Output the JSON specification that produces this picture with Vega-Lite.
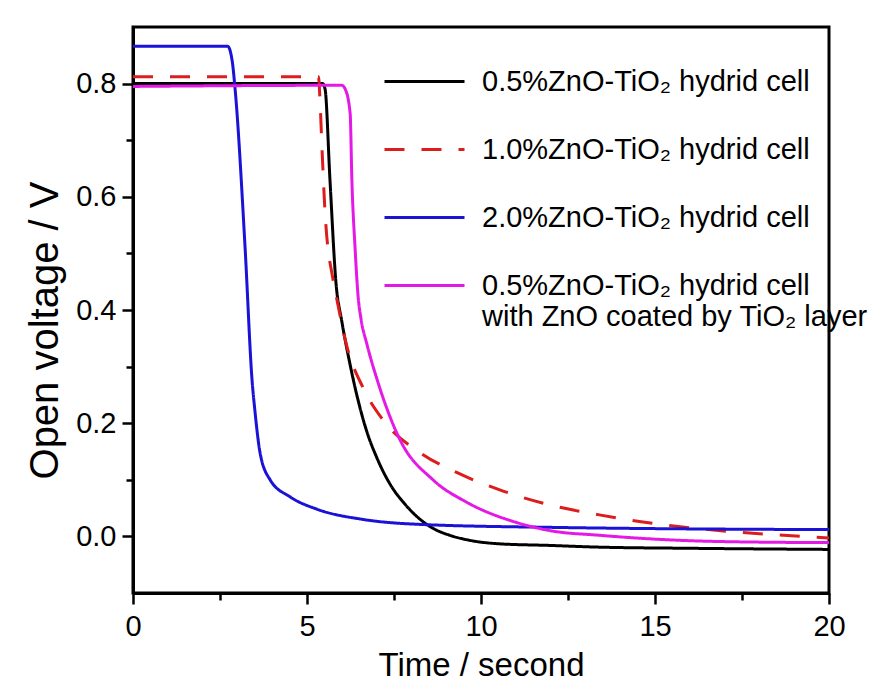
{
  "$schema": "https://vega.github.io/schema/vega-lite/v6.json",
  "width": 696,
  "height": 566,
  "autosize": "none",
  "padding": {"left": 133, "top": 27, "right": 43, "bottom": 100},
  "background": "white",
  "config": {
    "font": "Liberation Sans",
    "view": {"stroke": "black", "strokeWidth": 3},
    "axis": {"grid": false, "domainColor": "black", "domainWidth": 3, "tickColor": "black", "tickWidth": 2.5, "labelColor": "black", "titleColor": "black", "labelFont": "Liberation Sans", "titleFont": "Liberation Sans", "titleFontWeight": "normal", "labelFontSize": 29}
  },
  "data": {"values": [
    {"cell": "0.5%ZnO-TiO₂ hydrid cell", "t": 0, "v": 0.800},
    {"cell": "0.5%ZnO-TiO₂ hydrid cell", "t": 5.45, "v": 0.800},
    {"cell": "0.5%ZnO-TiO₂ hydrid cell", "t": 5.52, "v": 0.790},
    {"cell": "0.5%ZnO-TiO₂ hydrid cell", "t": 5.66, "v": 0.630},
    {"cell": "0.5%ZnO-TiO₂ hydrid cell", "t": 5.83, "v": 0.450},
    {"cell": "0.5%ZnO-TiO₂ hydrid cell", "t": 6.0, "v": 0.380},
    {"cell": "0.5%ZnO-TiO₂ hydrid cell", "t": 6.2, "v": 0.315},
    {"cell": "0.5%ZnO-TiO₂ hydrid cell", "t": 6.45, "v": 0.245},
    {"cell": "0.5%ZnO-TiO₂ hydrid cell", "t": 6.72, "v": 0.185},
    {"cell": "0.5%ZnO-TiO₂ hydrid cell", "t": 7.0, "v": 0.140},
    {"cell": "0.5%ZnO-TiO₂ hydrid cell", "t": 7.39, "v": 0.092},
    {"cell": "0.5%ZnO-TiO₂ hydrid cell", "t": 7.8, "v": 0.058},
    {"cell": "0.5%ZnO-TiO₂ hydrid cell", "t": 8.16, "v": 0.035},
    {"cell": "0.5%ZnO-TiO₂ hydrid cell", "t": 8.6, "v": 0.015},
    {"cell": "0.5%ZnO-TiO₂ hydrid cell", "t": 9.1, "v": 0.002},
    {"cell": "0.5%ZnO-TiO₂ hydrid cell", "t": 9.6, "v": -0.006},
    {"cell": "0.5%ZnO-TiO₂ hydrid cell", "t": 10.5, "v": -0.013},
    {"cell": "0.5%ZnO-TiO₂ hydrid cell", "t": 12, "v": -0.016},
    {"cell": "0.5%ZnO-TiO₂ hydrid cell", "t": 13.4, "v": -0.019},
    {"cell": "0.5%ZnO-TiO₂ hydrid cell", "t": 16, "v": -0.021},
    {"cell": "0.5%ZnO-TiO₂ hydrid cell", "t": 20, "v": -0.023},
    {"cell": "1.0%ZnO-TiO₂ hydrid cell", "t": 0, "v": 0.812},
    {"cell": "1.0%ZnO-TiO₂ hydrid cell", "t": 5.33, "v": 0.812},
    {"cell": "1.0%ZnO-TiO₂ hydrid cell", "t": 5.37, "v": 0.775},
    {"cell": "1.0%ZnO-TiO₂ hydrid cell", "t": 5.43, "v": 0.687},
    {"cell": "1.0%ZnO-TiO₂ hydrid cell", "t": 5.52, "v": 0.571},
    {"cell": "1.0%ZnO-TiO₂ hydrid cell", "t": 5.75, "v": 0.453},
    {"cell": "1.0%ZnO-TiO₂ hydrid cell", "t": 5.86, "v": 0.418},
    {"cell": "1.0%ZnO-TiO₂ hydrid cell", "t": 6.15, "v": 0.335},
    {"cell": "1.0%ZnO-TiO₂ hydrid cell", "t": 6.6, "v": 0.264},
    {"cell": "1.0%ZnO-TiO₂ hydrid cell", "t": 7.18, "v": 0.206},
    {"cell": "1.0%ZnO-TiO₂ hydrid cell", "t": 8.25, "v": 0.148},
    {"cell": "1.0%ZnO-TiO₂ hydrid cell", "t": 9.3, "v": 0.113},
    {"cell": "1.0%ZnO-TiO₂ hydrid cell", "t": 10.5, "v": 0.083},
    {"cell": "1.0%ZnO-TiO₂ hydrid cell", "t": 12.3, "v": 0.051},
    {"cell": "1.0%ZnO-TiO₂ hydrid cell", "t": 13.4, "v": 0.038},
    {"cell": "1.0%ZnO-TiO₂ hydrid cell", "t": 14.6, "v": 0.026},
    {"cell": "1.0%ZnO-TiO₂ hydrid cell", "t": 15.6, "v": 0.018},
    {"cell": "1.0%ZnO-TiO₂ hydrid cell", "t": 17.5, "v": 0.007},
    {"cell": "1.0%ZnO-TiO₂ hydrid cell", "t": 18.7, "v": 0.002},
    {"cell": "1.0%ZnO-TiO₂ hydrid cell", "t": 20, "v": -0.003},
    {"cell": "2.0%ZnO-TiO₂ hydrid cell", "t": 0, "v": 0.866},
    {"cell": "2.0%ZnO-TiO₂ hydrid cell", "t": 2.72, "v": 0.866},
    {"cell": "2.0%ZnO-TiO₂ hydrid cell", "t": 2.85, "v": 0.840},
    {"cell": "2.0%ZnO-TiO₂ hydrid cell", "t": 2.93, "v": 0.793},
    {"cell": "2.0%ZnO-TiO₂ hydrid cell", "t": 3.22, "v": 0.511},
    {"cell": "2.0%ZnO-TiO₂ hydrid cell", "t": 3.42, "v": 0.277},
    {"cell": "2.0%ZnO-TiO₂ hydrid cell", "t": 3.51, "v": 0.218},
    {"cell": "2.0%ZnO-TiO₂ hydrid cell", "t": 3.65, "v": 0.148},
    {"cell": "2.0%ZnO-TiO₂ hydrid cell", "t": 3.94, "v": 0.100},
    {"cell": "2.0%ZnO-TiO₂ hydrid cell", "t": 4.51, "v": 0.070},
    {"cell": "2.0%ZnO-TiO₂ hydrid cell", "t": 5.29, "v": 0.048},
    {"cell": "2.0%ZnO-TiO₂ hydrid cell", "t": 6.61, "v": 0.030},
    {"cell": "2.0%ZnO-TiO₂ hydrid cell", "t": 8.33, "v": 0.021},
    {"cell": "2.0%ZnO-TiO₂ hydrid cell", "t": 12, "v": 0.016},
    {"cell": "2.0%ZnO-TiO₂ hydrid cell", "t": 20, "v": 0.012},
    {"cell": "0.5%ZnO-TiO₂ hydrid cell with ZnO coated by TiO₂ layer", "t": 0, "v": 0.795},
    {"cell": "0.5%ZnO-TiO₂ hydrid cell with ZnO coated by TiO₂ layer", "t": 6.0, "v": 0.797},
    {"cell": "0.5%ZnO-TiO₂ hydrid cell with ZnO coated by TiO₂ layer", "t": 6.1, "v": 0.790},
    {"cell": "0.5%ZnO-TiO₂ hydrid cell with ZnO coated by TiO₂ layer", "t": 6.24, "v": 0.747},
    {"cell": "0.5%ZnO-TiO₂ hydrid cell with ZnO coated by TiO₂ layer", "t": 6.29, "v": 0.629},
    {"cell": "0.5%ZnO-TiO₂ hydrid cell with ZnO coated by TiO₂ layer", "t": 6.38, "v": 0.511},
    {"cell": "0.5%ZnO-TiO₂ hydrid cell with ZnO coated by TiO₂ layer", "t": 6.47, "v": 0.423},
    {"cell": "0.5%ZnO-TiO₂ hydrid cell with ZnO coated by TiO₂ layer", "t": 6.55, "v": 0.385},
    {"cell": "0.5%ZnO-TiO₂ hydrid cell with ZnO coated by TiO₂ layer", "t": 6.72, "v": 0.340},
    {"cell": "0.5%ZnO-TiO₂ hydrid cell with ZnO coated by TiO₂ layer", "t": 7.02, "v": 0.276},
    {"cell": "0.5%ZnO-TiO₂ hydrid cell with ZnO coated by TiO₂ layer", "t": 7.67, "v": 0.171},
    {"cell": "0.5%ZnO-TiO₂ hydrid cell with ZnO coated by TiO₂ layer", "t": 8.62, "v": 0.100},
    {"cell": "0.5%ZnO-TiO₂ hydrid cell with ZnO coated by TiO₂ layer", "t": 9.6, "v": 0.060},
    {"cell": "0.5%ZnO-TiO₂ hydrid cell with ZnO coated by TiO₂ layer", "t": 11.0, "v": 0.025},
    {"cell": "0.5%ZnO-TiO₂ hydrid cell with ZnO coated by TiO₂ layer", "t": 12, "v": 0.010},
    {"cell": "0.5%ZnO-TiO₂ hydrid cell with ZnO coated by TiO₂ layer", "t": 13.4, "v": 0.002},
    {"cell": "0.5%ZnO-TiO₂ hydrid cell with ZnO coated by TiO₂ layer", "t": 14.5, "v": -0.003},
    {"cell": "0.5%ZnO-TiO₂ hydrid cell with ZnO coated by TiO₂ layer", "t": 16.8, "v": -0.009},
    {"cell": "0.5%ZnO-TiO₂ hydrid cell with ZnO coated by TiO₂ layer", "t": 20, "v": -0.011}
  ]},
  "mark": {"type": "line", "strokeWidth": 3, "clip": true, "interpolate": "monotone"},
  "encoding": {
    "x": {"field": "t", "type": "quantitative",
      "scale": {"domain": [0, 20], "nice": false},
      "axis": {"title": "Time / second", "titleFontSize": 33, "titlePadding": 8,
        "values": [0, 2.5, 5, 7.5, 10, 12.5, 15, 17.5, 20],
        "labelExpr": "datum.value % 5 === 0 ? format(datum.value, 'd') : ''",
        "tickSize": {"condition": {"test": "datum.value % 5 === 0", "value": 11}, "value": 7},
        "labelPadding": 8, "labelFlush": false, "labelOverlap": false}},
    "y": {"field": "v", "type": "quantitative",
      "scale": {"domain": [-0.1, 0.9], "nice": false, "zero": false},
      "axis": {"title": "Open voltage / V", "titleFontSize": 40, "titlePadding": 10, "titleY": 303,
        "values": [0, 0.1, 0.2, 0.3, 0.4, 0.5, 0.6, 0.7, 0.8],
        "labelExpr": "round(datum.value * 10) % 2 === 0 ? format(datum.value, '.1f') : ''",
        "tickSize": {"condition": {"test": "round(datum.value * 10) % 2 === 0", "value": 11}, "value": 7},
        "labelPadding": 6, "labelFlush": false, "labelOverlap": false}},
    "color": {"field": "cell", "type": "nominal",
      "scale": {"domain": ["0.5%ZnO-TiO₂ hydrid cell", "1.0%ZnO-TiO₂ hydrid cell", "2.0%ZnO-TiO₂ hydrid cell", "0.5%ZnO-TiO₂ hydrid cell with ZnO coated by TiO₂ layer"],
        "range": ["#000000", "#dd1c1c", "#1a12d6", "#e519e5"]},
      "legend": {"title": null, "orient": "none", "legendX": 250, "legendY": 13,
        "symbolType": "stroke", "symbolSize": 6400, "symbolStrokeWidth": 3,
        "labelFontSize": 29, "labelFont": "Liberation Sans", "labelColor": "black", "labelLimit": 600, "labelOffset": 16,
        "rowPadding": 11,
        "labelExpr": "indexof(datum.label, ' with') > 0 ? [substring(datum.label, 0, indexof(datum.label, ' with')), substring(datum.label, indexof(datum.label, ' with') + 1)] : datum.label"}},
    "strokeDash": {"field": "cell", "type": "nominal",
      "scale": {"domain": ["0.5%ZnO-TiO₂ hydrid cell", "1.0%ZnO-TiO₂ hydrid cell", "2.0%ZnO-TiO₂ hydrid cell", "0.5%ZnO-TiO₂ hydrid cell with ZnO coated by TiO₂ layer"],
        "range": [[1, 0], [20, 17], [1, 0], [1, 0]]},
      "legend": {"title": null, "orient": "none", "legendX": 250, "legendY": 13,
        "symbolType": "stroke", "symbolSize": 6400, "symbolStrokeWidth": 3,
        "labelFontSize": 29, "labelFont": "Liberation Sans", "labelColor": "black", "labelLimit": 600, "labelOffset": 16,
        "rowPadding": 11,
        "labelExpr": "indexof(datum.label, ' with') > 0 ? [substring(datum.label, 0, indexof(datum.label, ' with')), substring(datum.label, indexof(datum.label, ' with') + 1)] : datum.label"}}
  }
}
